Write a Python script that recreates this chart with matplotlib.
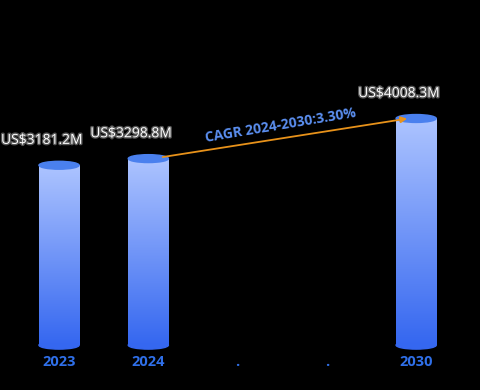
import matplotlib
matplotlib.use('Agg')
import matplotlib.pyplot as plt
import matplotlib.patheffects as pe
from matplotlib.patches import Ellipse
from matplotlib.colors import LinearSegmentedColormap
import numpy as np

# Data
categories = ['2023', '2024', '.', '.', '2030']
values = [3181.2, 3298.8, None, None, 4008.3]
labels = ['US$3181.2M', 'US$3298.8M', '', '', 'US$4008.3M']
cagr_text = 'CAGR 2024-2030:3.30%'

plt.rcParams['font.family'] = ['Open Sans', 'DejaVu Sans']

fig = plt.figure(figsize=(4.8, 3.9), dpi=100, facecolor='black')
ax = fig.add_axes([0.03, 0.115, 0.93, 0.725])
ax.set_facecolor('black')

bar_w = 0.45
cap_h = 140
cmap = LinearSegmentedColormap.from_list('bar', ['#3567f0', '#adc4ff'])
grad = np.linspace(0, 1, 256).reshape(-1, 1)

for i, v in enumerate(values):
    if v is None:
        continue
    # bottom cap
    ax.add_patch(Ellipse((i, 0), bar_w, cap_h, color='#3567f0', zorder=2, clip_on=False))
    # body with gradient
    ax.imshow(grad, extent=[i - bar_w / 2, i + bar_w / 2, 0, v], origin='lower',
              cmap=cmap, aspect='auto', zorder=3)
    # top cap
    ax.add_patch(Ellipse((i, v), bar_w, cap_h, color='#4a80ee', zorder=4))
    ax.text(i - 0.65, v + 440, labels[i], ha='left', va='center', color='white',
            fontsize=10, zorder=6, clip_on=False,
            path_effects=[pe.withStroke(linewidth=2, foreground='#555555')])

# CAGR arrow
ax.annotate('', xy=(3.93, values[4] + 5), xytext=(1.13, values[1] + 20),
            arrowprops=dict(arrowstyle='-|>', color='#e8921a', lw=1.3,
                            mutation_scale=9), zorder=5)
ax.text(2.48, 3880, cagr_text, ha='center', va='center', color='#5b8ff0',
        fontsize=10, fontweight='bold', rotation=9.5, zorder=6)

ax.set_xlim(-0.5, 4.5)
ax.set_ylim(0, 5000)
ax.set_xticks(range(len(categories)))
ax.set_xticklabels(categories, color='#2f6fe8', fontsize=10.5, fontweight='bold')
ax.tick_params(axis='x', length=0, pad=7)
ax.set_yticks([])
for s in ax.spines.values():
    s.set_visible(False)

fig.savefig('out.png', dpi=100, facecolor='black')
